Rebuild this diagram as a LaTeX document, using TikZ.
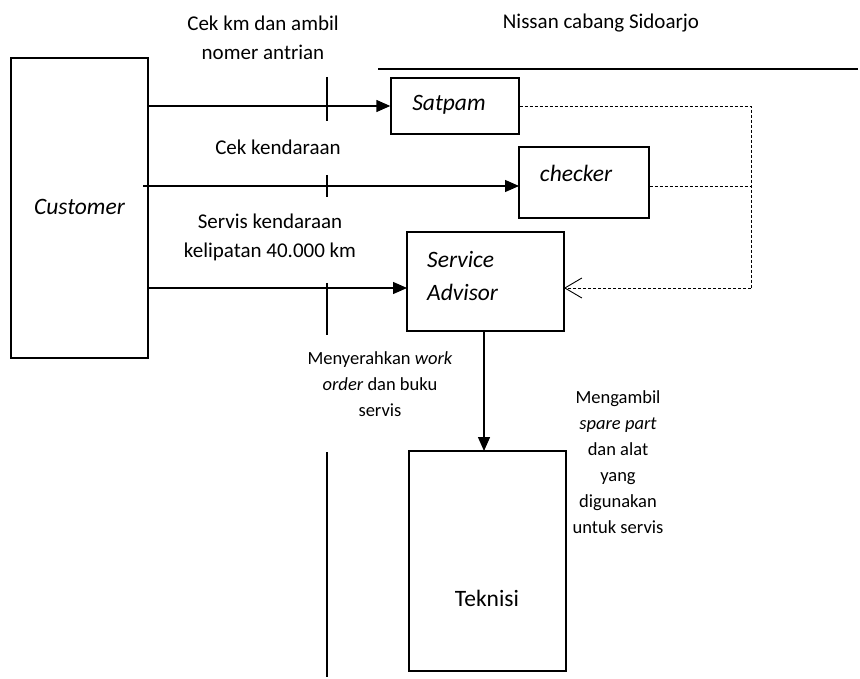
\documentclass[tikz,border=0pt]{standalone}
\usepackage{fontspec}
\setmainfont{Carlito}
\usetikzlibrary{arrows.meta}
\begin{document}
\begin{tikzpicture}[x=1pt,y=-1pt,
  box/.style={draw,line width=1.4pt,inner sep=0pt},
  flow/.style={line width=1.4pt,-{Triangle[length=14pt,width=12pt]}},
  back/.style={line width=0.9pt,dash pattern=on 3pt off 2pt},
  tick/.style={line width=1.4pt},
  lbl/.style={font=\fontsize{21}{29.5}\selectfont,align=center,inner sep=0pt},
  actor/.style={font=\fontsize{23.5}{33}\selectfont,inner sep=0pt},
  note/.style={font=\fontsize{18.5}{26}\selectfont,align=center,inner sep=0pt}]
\useasboundingbox (0,0) rectangle (860,679);

% actors and units
\node[box,minimum width=137pt,minimum height=300pt] (cust) at (79.5,208) {};
\node[actor] (custtxt) at (79.5,207) {\itshape Customer};
\node[box,minimum width=128pt,minimum height=56pt] (satpam) at (455,106) {};
\node[actor] (satpamtxt) at (449,105) {\itshape Satpam};
\node[box,minimum width=130pt,minimum height=71pt] (checker) at (584,182.5) {};
\node[actor] (checkertxt) at (576,173) {\itshape checker};
\node[box,minimum width=157pt,minimum height=99pt] (sa) at (485.5,281.5) {};
\node[actor,anchor=west] (satxt1) at (427,259) {\itshape Service};
\node[actor,anchor=west] (satxt2) at (427,292) {\itshape Advisor};
\node[box,minimum width=157pt,minimum height=220pt] (tek) at (487.5,561) {};
\node[actor] (tektxt) at (487,598) {Teknisi};

% dealer boundary
\coordinate (b1) at (378,69);
\coordinate (b2) at (858,69);
\draw[tick] (b1) -- (b2);
\node[lbl] (dealer) at (601,23) {Nissan cabang Sidoarjo};

% flows from the customer
\coordinate (s1) at (148,106);
\coordinate (s2) at (143,186);
\coordinate (s3) at (148,288);
\coordinate (e2) at (519,186);
\coordinate (e3) at (407,288);
\draw[flow] (s1) -- (satpam.west);
\draw[flow] (s2) -- (e2);
\draw[flow] (s3) -- (e3);

% boundary ticks
\coordinate (t1a) at (327,77);  \coordinate (t1b) at (327,121);
\coordinate (t2a) at (327,175); \coordinate (t2b) at (327,197);
\coordinate (t3a) at (327,283); \coordinate (t3b) at (327,335);
\coordinate (t4a) at (327,452); \coordinate (t4b) at (327,677);
\draw[tick] (t1a) -- (t1b);
\draw[tick] (t2a) -- (t2b);
\draw[tick] (t3a) -- (t3b);
\draw[tick] (t4a) -- (t4b);

\node[lbl] (l1) at (263,38) {Cek km dan ambil\\nomer antrian};
\node[lbl] (l2) at (278,147) {Cek kendaraan};
\node[lbl] (l3) at (270,237.5) {Servis kendaraan\\kelipatan 40.000 km};

% feedback to the service advisor
\coordinate (j1) at (751,106);
\coordinate (j2) at (751,186);
\coordinate (j3) at (751,288);
\coordinate (e4) at (564,288);
\draw[back] (satpam.east |- j1) -- (j1) -- (j3);
\draw[back] (checker.east |- j2) -- (j2);
\draw[back,-{Straight Barb[length=17pt,width=20pt,line width=0.9pt]}] (j3) -- (e4);

% handover to the technician
\coordinate (h1) at (484,331);
\coordinate (h2) at (484,451);
\draw[flow] (h1) -- (h2);
\node[note] (l4) at (380,384) {Menyerahkan \textit{work}\\\textit{order} dan buku\\servis};
\node[note] (l5) at (618,462) {Mengambil\\\textit{spare part}\\dan alat\\yang\\digunakan\\untuk servis};
\end{tikzpicture}
\end{document}
